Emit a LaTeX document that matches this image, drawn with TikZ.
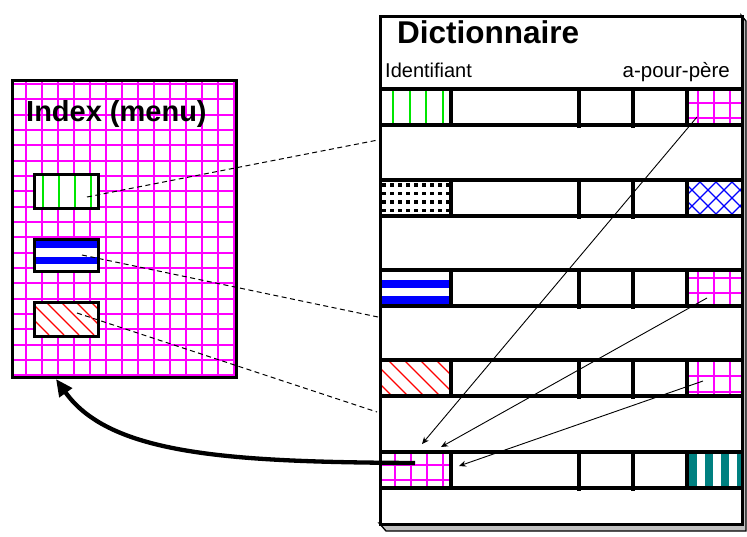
\documentclass[tikz,border=0pt]{standalone}
\usepackage{fontspec}
\setmainfont{Liberation Sans}
\usetikzlibrary{arrows.meta}
\definecolor{mag}{RGB}{255,0,255}
\definecolor{grn}{RGB}{0,230,0}
\definecolor{blu}{RGB}{0,0,255}
\definecolor{tealc}{RGB}{0,128,128}
\definecolor{redc}{RGB}{255,0,0}
\definecolor{slab}{RGB}{192,192,192}
\begin{document}
\begin{tikzpicture}[x=1pt,y=-1pt,
  frame/.style={draw=black,line width=3.2pt},
  rowline/.style={draw=black,line width=3.2pt},
  gridl/.style={draw=mag,line width=1.8pt},
  greenl/.style={draw=grn,line width=1.5pt},
  hatchl/.style={draw=redc,line width=1.3pt},
  crossl/.style={draw=blu,line width=1.3pt},
  dashc/.style={draw=black,line width=1pt,dash pattern=on 5pt off 3.5pt},
  thinarrow/.style={draw=black,line width=0.9pt,-{Stealth[length=7pt,width=6pt]}},
  bigarrow/.style={draw=black,line width=4.3pt,-{Triangle[length=17pt,width=15pt]}},
  boxnode/.style={frame,inner sep=0pt,anchor=north west}]
\useasboundingbox (0,0) rectangle (747,536);

% ---------------- Index (menu) ----------------
\fill[white] (11,79) rectangle (235,376);
\begin{scope}
  \clip (11,79) rectangle (235,376);
  \foreach \x in {10,26,...,234} \draw[gridl] (\x,79) -- (\x,376);
  \foreach \k in {0,...,19} \draw[gridl] (11,{84+15.33*\k}) -- (235,{84+15.33*\k});
\end{scope}
\node[boxnode,minimum width=224pt,minimum height=297pt] (index) at (11,79) {};
\node[anchor=base west,inner sep=0pt,font=\bfseries\fontsize{29}{31}\selectfont] (ititle) at (26,121) {Index (menu)};

% box 1 : green lines
\fill[white] (33,173) rectangle (97,207);
\foreach \x in {43,59,75,91} \draw[greenl] (\x,173) -- (\x,207);
\node[boxnode,minimum width=64pt,minimum height=34pt] (ib1) at (33,173) {};
% box 2 : blue stripes
\fill[white] (33,238) rectangle (97,270);
\fill[blu] (33,240) rectangle (97,248);
\fill[blu] (33,257) rectangle (97,264);
\node[boxnode,minimum width=64pt,minimum height=32pt] (ib2) at (33,238) {};
% box 3 : red hatch
\fill[white] (33,301) rectangle (97,335);
\begin{scope}
  \clip (33,301) rectangle (97,335);
  \foreach \x in {-30,-15,...,100} \draw[hatchl] (\x,301) -- ({\x+34},335);
\end{scope}
\node[boxnode,minimum width=64pt,minimum height=34pt] (ib3) at (33,301) {};

% ---------------- Dictionnaire ----------------
\filldraw[fill=slab,draw=black,line width=1.3pt] (741,15) -- (746,21) -- (746,531) -- (386,531) -- (379,523) -- (741,523) -- cycle;
\fill[white] (379,15) rectangle (741,523);

% row 1 col 1 : green lines
\foreach \x in {393,410,426,443} \draw[greenl] (\x,89) -- (\x,125);
% row 1 col 5 : magenta grid
\begin{scope}
  \clip (687,89) rectangle (741,125);
  \foreach \x in {698,714,730} \draw[gridl] (\x,89) -- (\x,125);
  \foreach \y in {103,118} \draw[gridl] (687,\y) -- (741,\y);
\end{scope}
% row 2 col 1 : dots
\foreach \i in {0,...,8} \foreach \j in {0,...,3}
  \fill[black] ({382.3+8*\i},{183.3+8.5*\j}) rectangle ++(3.2,3.2);
% row 2 col 5 : blue crosshatch
\begin{scope}
  \clip (687,180) rectangle (741,216);
  \foreach \x in {650,666,...,760} {
    \draw[crossl] (\x,180) -- ({\x+36},216);
    \draw[crossl] (\x,216) -- ({\x+36},180);
  }
\end{scope}
% row 3 col 1 : blue stripes
\fill[blu] (379,280) rectangle (451,288);
\fill[blu] (379,296) rectangle (451,304);
% row 3 col 5 : magenta grid
\begin{scope}
  \clip (687,270) rectangle (741,306);
  \foreach \x in {698,714,730} \draw[gridl] (\x,270) -- (\x,306);
  \foreach \y in {278,293} \draw[gridl] (687,\y) -- (741,\y);
\end{scope}
% row 4 col 1 : red hatch
\begin{scope}
  \clip (379,360) rectangle (451,396);
  \foreach \x in {340,356,...,460} \draw[hatchl] (\x,360) -- ({\x+36},396);
\end{scope}
% row 4 col 5 : magenta grid
\begin{scope}
  \clip (687,360) rectangle (741,396);
  \foreach \x in {698,714,730} \draw[gridl] (\x,360) -- (\x,396);
  \foreach \y in {376,392} \draw[gridl] (687,\y) -- (741,\y);
\end{scope}
% row 5 col 1 : magenta grid
\begin{scope}
  \clip (379,452) rectangle (451,488);
  \foreach \x in {395,411,427,443} \draw[gridl] (\x,452) -- (\x,488);
  \foreach \y in {465,480} \draw[gridl] (379,\y) -- (451,\y);
\end{scope}
% row 5 col 5 : teal stripes
\foreach \x in {689,705,721,737} \fill[tealc] (\x,452) rectangle ({min(\x+8,741)},488);

% row lines and separators
\foreach \t in {89,180,270,360,452} {
  \draw[rowline] (379,\t) -- (741,\t);
  \draw[rowline] (379,\t+36) -- (741,\t+36);
  \draw[rowline] (451,\t) -- (451,\t+36);
  \draw[rowline] (687,\t) -- (687,\t+36);
  \draw[rowline] (579,\t) -- (579,\t+39);
  \draw[rowline] (633,\t) -- (633,\t+39);
}
\node[boxnode,minimum width=362pt,minimum height=508pt] (dict) at (379,15) {};
\node[anchor=base west,inner sep=0pt,font=\bfseries\fontsize{31.5}{33}\selectfont] (dtitle) at (397,43) {Dictionnaire};
\node[anchor=base west,inner sep=0pt,font=\fontsize{20}{22}\selectfont] (ident) at (385,77) {Identifiant};
\node[anchor=base east,inner sep=0pt,font=\fontsize{20.5}{22}\selectfont] (pere) at (730,77) {a-pour-père};

% ---------------- connectors ----------------
\coordinate (d1a) at (87,197);  \coordinate (d1b) at (378,140);
\coordinate (d2a) at (82,255);  \coordinate (d2b) at (378,317);
\coordinate (d3a) at (77,313);  \coordinate (d3b) at (377,412);
\draw[dashc] (d1a) -- (d1b);
\draw[dashc] (d2a) -- (d2b);
\draw[dashc] (d3a) -- (d3b);

\coordinate (s1) at (697,117); \coordinate (e1) at (422,444);
\coordinate (s2) at (707,298); \coordinate (e2) at (441,447);
\coordinate (s3) at (703,381); \coordinate (e3) at (459,466);
\draw[thinarrow] (s1) -- (e1);
\draw[thinarrow] (s2) -- (e2);
\draw[thinarrow] (s3) -- (e3);

\coordinate (t0) at (415,463);
\coordinate (t1) at (56,379);
\draw[bigarrow] (t0) .. controls (230,462) and (110,455) .. (t1);
\end{tikzpicture}
\end{document}
